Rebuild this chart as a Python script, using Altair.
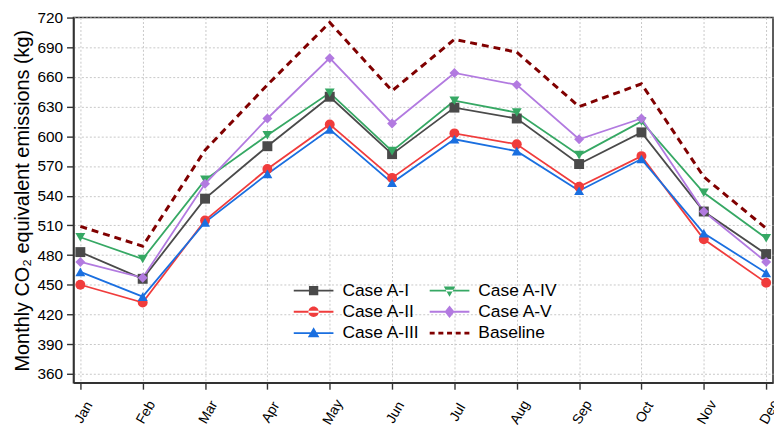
import altair as alt
import pandas as pd

months = ["Jan", "Feb", "Mar", "Apr", "May", "Jun", "Jul", "Aug", "Sep", "Oct", "Nov", "Dec"]
series_names = ["Case A-I", "Case A-II", "Case A-III", "Case A-IV", "Case A-V"]
case_a1 = [483, 456, 537, 590, 640, 582, 629, 618, 572, 604, 524, 481]
case_a2 = [450, 432, 515, 567, 612, 558, 603, 592, 549, 580, 496, 452]
case_a3 = [463, 438, 513, 562, 607, 553, 597, 585, 545, 577, 502, 462]
case_a4 = [498, 476, 556, 601, 644, 585, 636, 624, 581, 615, 543, 497]
case_a5 = [473, 457, 552, 618, 679, 613, 664, 652, 597, 618, 524, 473]
baseline = [509, 489, 586, 652, 715, 646, 698, 685, 630, 653, 559, 507]
y_ticks = [360, 390, 420, 450, 480, 510, 540, 570, 600, 630, 660, 690, 720]

colors = ["#4a4a4a", "#f03c3c", "#1a6fe0", "#36a864", "#b27ae0"]
baseline_color = "#800000"
shapes = ["square", "circle", "triangle-up", "triangle-down", "diamond"]

# legend (filled column by column: 3 rows x 2 columns)
legend_order = ["Case A-I", "Case A-II", "Case A-III", "Case A-IV", "Case A-V", "Baseline"]
legend_colors = ["#4a4a4a", "#f03c3c", "#1a6fe0", "#36a864", "#b27ae0", "#800000"]
line_part = "M-2,-0.09H2V0.09H-2Z"
legend_paths = [
    line_part + "M-0.47,-0.47H0.47V0.47H-0.47Z",
    line_part + "M-0.52,0A0.52,0.52 0 1,0 0.52,0A0.52,0.52 0 1,0 -0.52,0Z",
    line_part + "M0,-0.6L0.58,0.42H-0.58Z",
    line_part + "M0,0.6L0.58,-0.42H-0.58Z",
    line_part + "M0,-0.62L0.5,0L0,0.62L-0.5,0Z",
    "M-2,-0.13H-1.5V0.13H-2Z M-1.125,-0.13H-0.625V0.13H-1.125Z M-0.25,-0.13H0.25V0.13H-0.25Z "
    "M0.625,-0.13H1.125V0.13H0.625Z M1.5,-0.13H2V0.13H1.5Z",
]

rows = []
for name, vals in zip(series_names, [case_a1, case_a2, case_a3, case_a4, case_a5]):
    for m, v in zip(months, vals):
        rows.append({"month": m, "value": v, "series": name})
cases = pd.DataFrame(rows)
base_df = pd.DataFrame({"month": months, "value": baseline})
legend_df = pd.DataFrame({"label": legend_order})

x_enc = alt.X(
    "month:N", sort=months,
    scale=alt.Scale(type="point", padding=0.11),
    axis=alt.Axis(title=None, labelAngle=300, labelAlign="center", labelBaseline="middle",
                  labelFontSize=14, labelPadding=23, labelOffset=3, tickSize=6.5),
)
y_enc = alt.Y(
    "value:Q",
    scale=alt.Scale(domain=[351, 720], nice=False, zero=False),
    axis=alt.Axis(values=y_ticks, title="Monthly CO₂ equivalent emissions (kg)",
                  labelFontSize=15.5, tickSize=7, labelPadding=4,
                  titleFontSize=20, titleFontWeight="normal", titlePadding=4),
)
color_enc = alt.Color("series:N", scale=alt.Scale(domain=series_names, range=colors), legend=None)

lines = alt.Chart(cases).mark_line(strokeWidth=1.8).encode(x=x_enc, y=y_enc, color=color_enc)
points = alt.Chart(cases).mark_point(filled=True, size=100, opacity=1).encode(
    x=x_enc, y=y_enc, color=color_enc,
    shape=alt.Shape("series:N", scale=alt.Scale(domain=series_names, range=shapes), legend=None),
)
base_line = alt.Chart(base_df).mark_line(color=baseline_color, strokeWidth=3, strokeDash=[7, 5]).encode(
    x=x_enc, y=y_enc
)

leg = alt.Legend(title=None, orient="none", legendX=222, legendY=265, columns=2,
                 columnPadding=10, rowPadding=2.5, labelFontSize=17.5, labelColor="black",
                 symbolSize=400, symbolOffset=10, labelOffset=19, padding=0,
                 symbolStrokeWidth=0, labelLimit=0)
legend_layer = alt.Chart(legend_df).mark_point(filled=True, opacity=1).encode(
    color=alt.Color("label:N", scale=alt.Scale(domain=legend_order, range=legend_colors), legend=leg),
    shape=alt.Shape("label:N", scale=alt.Scale(domain=legend_order, range=legend_paths), legend=leg),
).transform_filter("false")

chart = alt.layer(lines, points, base_line, legend_layer).resolve_scale(
    color="independent", shape="independent"
).properties(
    width=705, height=368,
    autosize=alt.AutoSizeParams(type="none"),
    padding={"left": 66, "top": 8, "right": 1, "bottom": 44},
).configure(font="Arial").configure_axis(
    domainColor="#333333", domainWidth=1.6, tickColor="#333333", tickWidth=1.4,
    labelColor="black", titleColor="black",
    grid=True, gridColor="#c8c8c8", gridDash=[2, 2], gridWidth=1,
).configure_view(stroke="#333333", strokeWidth=1.6)

chart.save("out.html", embed_options={"renderer": "svg", "actions": False})
